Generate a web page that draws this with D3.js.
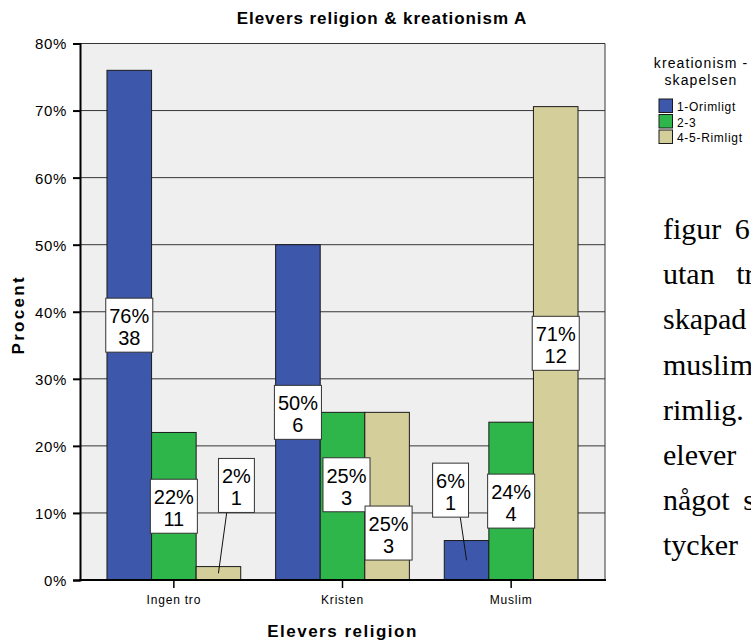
<!DOCTYPE html>
<html>
<head>
<meta charset="utf-8">
<script src="https://cdn.jsdelivr.net/npm/d3@7"></script>
<style>
  html, body { margin: 0; padding: 0; background: #fff; overflow: hidden; }
  svg { display: block; }
  text { font-family: "Liberation Sans", Arial, sans-serif; }
</style>
</head>
<body>
<svg id="chart" width="751" height="641"></svg>
<script>
// Religion groups and the answer groups on creationism
const categories = ["Ingen tro", "Kristen", "Muslim"];
const seriesNames = ["1-Orimligt", "2-3", "4-5-Rimligt"];

// Number of pupils per answer group, one entry per religion group
const orimligt = [38, 6, 1];
const mellan = [11, 3, 4];
const rimligt = [1, 3, 12];

const yTicks = [0, 10, 20, 30, 40, 50, 60, 70, 80];
const seriesColors = ["#3d57aa", "#2fb64a", "#d4cf9a"];

// Running text of the page beside the chart, with its justified word gaps
const sideText = ["figur 6", "utan tr", "skapad", "muslim", "rimlig.", "elever", "något s", "tycker"];
const sideGaps = [6, 14, 6, 6, 6, 6, 6, 6];

// Labels moved away from the bar middle so they do not overlap
// (dx in px from the bar centre, at = level in percent)
const labelNudge = {
  "Ingen tro|4-5-Rimligt": { dx: 18, at: 14.1, leader: true },
  "Kristen|2-3": { dx: 4, at: 14.2 },
  "Kristen|4-5-Rimligt": { dx: 1.5, at: 7.0 },
  "Muslim|1-Orimligt": { dx: -16, at: 13.4, leader: true }
};

const seriesCounts = [orimligt, mellan, rimligt];
const totals = categories.map((c, i) => d3.sum(seriesCounts, s => s[i]));
const rows = [];
categories.forEach((cat, i) => {
  seriesNames.forEach((name, j) => {
    const n = seriesCounts[j][i];
    rows.push({ cat, name, j, n, pct: n / totals[i] * 100 });
  });
});

const svg = d3.select("#chart");
const plotL = 80, plotR = 605, plotT = 43.5, plotB = 580;

const x0 = d3.scaleBand().domain(categories).range([plotL, plotR])
  .paddingInner(0.207).paddingOuter(0.16);
const x1 = d3.scaleBand().domain(seriesNames).range([0, x0.bandwidth()]).padding(0);
const y = d3.scaleLinear().domain([0, 80]).range([plotB, plotT]);

// Plot background
svg.append("rect")
  .attr("x", plotL).attr("y", plotT)
  .attr("width", plotR - plotL).attr("height", plotB - plotT)
  .attr("fill", "#efefef");

// Horizontal gridlines
svg.append("g")
  .selectAll("line")
  .data(yTicks.filter(t => t > 0))
  .join("line")
  .attr("x1", plotL).attr("x2", plotR)
  .attr("y1", d => y(d)).attr("y2", d => y(d))
  .attr("stroke", "#363636").attr("stroke-width", 1);

// Right border
svg.append("line")
  .attr("x1", plotR).attr("x2", plotR).attr("y1", plotT).attr("y2", plotB)
  .attr("stroke", "#363636").attr("stroke-width", 1);

// Bars
svg.append("g")
  .selectAll("rect")
  .data(rows)
  .join("rect")
  .attr("x", d => x0(d.cat) + x1(d.name))
  .attr("y", d => y(d.pct))
  .attr("width", x1.bandwidth())
  .attr("height", d => y(0) - y(d.pct))
  .attr("fill", d => seriesColors[d.j])
  .attr("stroke", "#1a1a1a").attr("stroke-width", 1);

// Y axis
const yAxis = svg.append("g").attr("transform", `translate(${plotL},0)`)
  .call(d3.axisLeft(y).tickValues(yTicks).tickSize(7).tickFormat(d => d + "%"));
yAxis.select(".domain").attr("stroke", "#000").attr("stroke-width", 2);
yAxis.selectAll(".tick line").attr("stroke", "#000").attr("stroke-width", 2);
yAxis.selectAll(".tick text")
  .attr("x", -13).attr("dy", "0.36em")
  .attr("font-size", 15).attr("letter-spacing", 0.7)
  .attr("fill", "#000")
  .style("font-family", '"Liberation Sans", Arial, sans-serif');

// X axis
const xAxis = svg.append("g").attr("transform", `translate(0,${plotB})`)
  .call(d3.axisBottom(x0).tickSize(8).tickSizeOuter(0));
xAxis.select(".domain").attr("stroke", "#000").attr("stroke-width", 2)
  .attr("d", `M${plotL - 1},0H${plotR + 1}`);
xAxis.selectAll(".tick line").attr("stroke", "#000").attr("stroke-width", 1.5);
xAxis.selectAll(".tick text")
  .attr("y", 24).attr("dy", 0)
  .attr("font-size", 12).attr("letter-spacing", 0.8)
  .attr("fill", "#000")
  .style("font-family", '"Liberation Sans", Arial, sans-serif');

// Value labels: percent and count in a white box
const labelG = svg.append("g");
rows.forEach(d => {
  const cx0 = x0(d.cat) + x1(d.name) + x1.bandwidth() / 2;
  const nudge = labelNudge[d.cat + "|" + d.name];
  const cx = cx0 + (nudge ? nudge.dx : 0);
  const cy = y(nudge ? nudge.at : d.pct / 2);
  const g = labelG.append("g");
  const leader = g.append("line").attr("stroke", "#111").attr("stroke-width", 1);
  const box = g.append("rect").attr("fill", "#fff")
    .attr("stroke", "#333").attr("stroke-width", 1);
  const t1 = g.append("text").attr("x", cx).attr("y", cy - 2)
    .attr("text-anchor", "middle").attr("font-size", 20).attr("fill", "#000")
    .text(Math.round(d.pct) + "%");
  const t2 = g.append("text").attr("x", cx).attr("y", cy + 20)
    .attr("text-anchor", "middle").attr("font-size", 20).attr("fill", "#000")
    .text(d.n);
  const w = Math.max(t1.node().getComputedTextLength(), t2.node().getComputedTextLength()) + 7;
  box.attr("x", cx - w / 2).attr("y", cy - 27).attr("width", w).attr("height", 54);
  if (nudge && nudge.leader) {
    const side = Math.sign(cx0 - cx);
    leader.attr("x1", cx + side * w * 0.27).attr("y1", cy + 27)
      .attr("x2", cx0).attr("y2", y(d.pct / 2));
  } else {
    leader.remove();
  }
});

// Titles
svg.append("text")
  .attr("x", 382).attr("y", 23.5)
  .attr("text-anchor", "middle").attr("font-size", 17).attr("font-weight", "bold")
  .attr("letter-spacing", 0.95)
  .text("Elevers religion & kreationism A");

svg.append("text")
  .attr("x", (plotL + plotR) / 2).attr("y", 637)
  .attr("text-anchor", "middle").attr("font-size", 17).attr("font-weight", "bold")
  .attr("letter-spacing", 1.5)
  .text("Elevers religion");

svg.append("text")
  .attr("transform", `translate(24,${(plotT + plotB) / 2 + 3}) rotate(-90)`)
  .attr("text-anchor", "middle").attr("font-size", 17).attr("font-weight", "bold")
  .attr("letter-spacing", 2.3)
  .text("Procent");

// Legend
const legend = svg.append("g");
legend.append("text")
  .attr("x", 701).attr("y", 68)
  .attr("text-anchor", "middle").attr("font-size", 14).attr("letter-spacing", 1.1)
  .text("kreationism -");
legend.append("text")
  .attr("x", 701).attr("y", 85)
  .attr("text-anchor", "middle").attr("font-size", 14).attr("letter-spacing", 1.1)
  .text("skapelsen");
const items = legend.selectAll("g.item")
  .data(seriesNames)
  .join("g").attr("class", "item")
  .attr("transform", (d, i) => `translate(659,${99 + i * 15.5})`);
items.append("rect")
  .attr("width", 13.5).attr("height", 13.5)
  .attr("fill", (d, i) => seriesColors[i])
  .attr("stroke", "#1a1a1a").attr("stroke-width", 1);
items.append("text")
  .attr("x", 18).attr("y", 12)
  .attr("font-size", 12).attr("letter-spacing", 0.7)
  .text(d => d);

// Body text beside the chart
svg.append("g")
  .selectAll("text")
  .data(sideText)
  .join("text")
  .attr("x", 663)
  .attr("y", (d, i) => 239 + i * 45.2)
  .attr("font-size", 30)
  .attr("word-spacing", (d, i) => sideGaps[i])
  .style("font-family", '"Liberation Serif", "Times New Roman", serif')
  .attr("fill", "#000")
  .text(d => d);
</script>
</body>
</html>
